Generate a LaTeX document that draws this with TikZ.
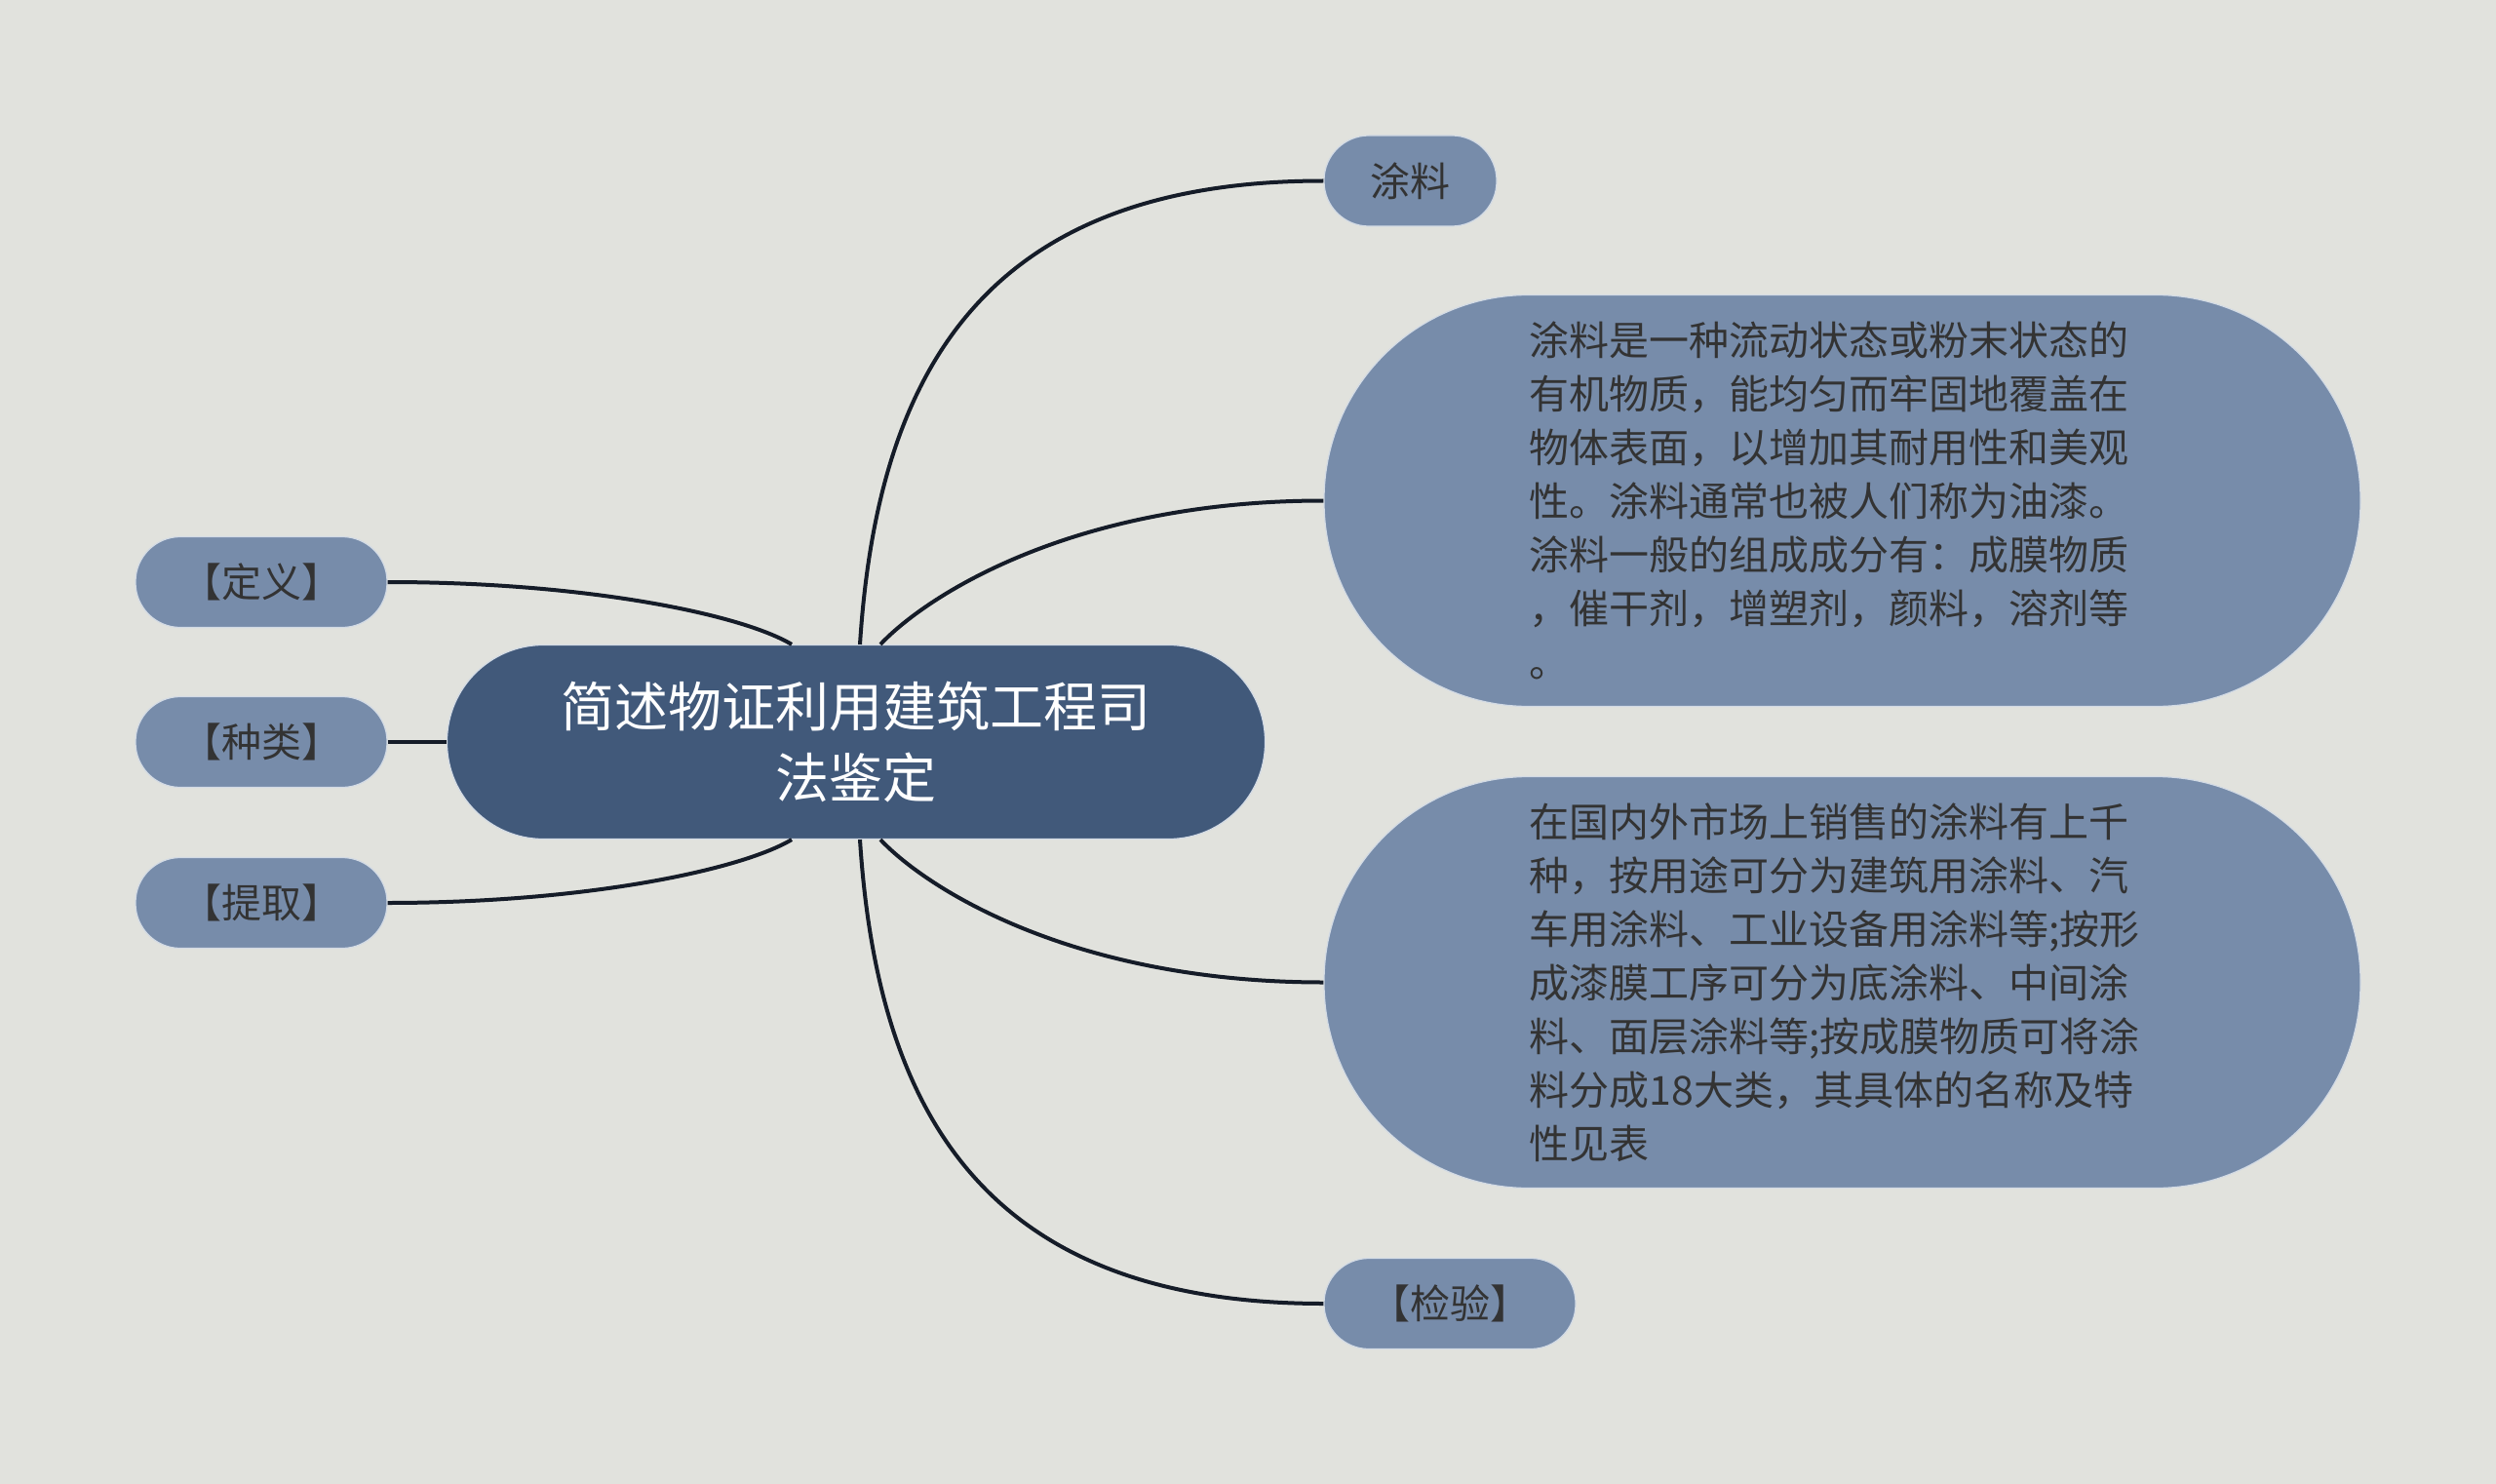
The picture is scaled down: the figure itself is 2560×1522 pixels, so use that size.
\documentclass[tikz,border=0pt]{standalone}
\usepackage{fontspec}
\setmainfont{Noto Sans CJK SC}
\definecolor{bgc}{HTML}{E1E2DD}
\definecolor{mainc}{HTML}{41597A}
\definecolor{subc}{HTML}{778CAA}
\definecolor{linec}{HTML}{151C28}
\definecolor{txtc}{HTML}{333333}
\definecolor{edgec}{HTML}{D3DBE5}
\begin{document}
\begin{tikzpicture}[x=1pt,y=-1pt,
  base/.style={draw=edgec, line width=1.2pt, inner sep=0pt, align=center},
  topic/.style={base, fill=mainc, text=white, minimum width=839pt, minimum height=199pt, rounded corners=99pt, font=\fontsize{55}{73.5}\selectfont},
  pill/.style={base, fill=subc, text=txtc, minimum height=93pt, rounded corners=46pt, font=\fontsize{41}{55}\selectfont},
  bigbox/.style={base, fill=subc, text=txtc, minimum width=1063pt, minimum height=422pt, rounded corners=210pt, text width=642pt, align=left, font=\fontsize{41}{55}\selectfont},
  link/.style={draw=linec, line width=4pt}]
\fill[bgc] (0,0) rectangle (2560,1522);
\useasboundingbox (0,0) rectangle (2560,1522);

\node[topic] (c) at (878,761) {简述物证利用建筑工程司\\法鉴定};

\node[pill, minimum width=258pt] (l1) at (268,597) {【定义】};
\node[pill, minimum width=258pt] (l2) at (268,761) {【种类】};
\node[pill, minimum width=258pt] (l3) at (268,926) {【提取】};

\node[pill, minimum width=177pt] (r1) at (1446.5,185.5) {涂料};
\node[bigbox] (r2) at (1889.5,513.5) {涂料是一种流动状态或粉末状态的\\有机物质，能均匀而牢固地覆盖在\\物体表面，以增加其耐用性和美观\\性。涂料通常也被人们称为油漆。\\涂料一般的组成成分有：成膜物质\\，催干剂，增塑剂，颜料，溶剂等\\。};
\node[bigbox] (r3) at (1889.5,1007.5) {在国内外市场上销售的涂料有上千\\种，按用途可分为建筑用涂料、汽\\车用涂料、工业设备用涂料等;按形\\成漆膜工序可分为底涂料、中间涂\\料、面层涂料等;按成膜物质可将涂\\料分成18大类，其具体的名称及特\\性见表};
\node[pill, minimum width=258pt] (r4) at (1487,1337) {【检验】};

\draw[link] ([xshift=4pt]c.north) .. controls +(18,-280) and +(-347,0) .. (r1.west);
\draw[link] ([xshift=25pt]c.north) .. controls +(47,-50) and +(-257,0) .. (r2.west);
\draw[link] ([xshift=25pt]c.south) .. controls +(47,50) and +(-257,0) .. (r3.west);
\draw[link] ([xshift=4pt]c.south) .. controls +(18,280) and +(-347,0) .. (r4.west);
\draw[link] ([xshift=-66pt]c.north) .. controls +(-52,-31) and +(203,0) .. (l1.east);
\draw[link] (l2.east) -- (c.west);
\draw[link] ([xshift=-66pt]c.south) .. controls +(-52,31) and +(203,0) .. (l3.east);
\end{tikzpicture}
\end{document}
